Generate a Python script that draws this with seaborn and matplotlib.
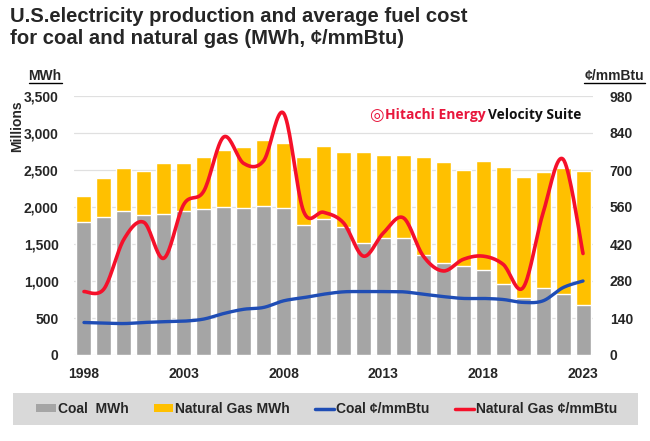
import numpy as np
import pandas as pd
import matplotlib
matplotlib.use("Agg")
import matplotlib.pyplot as plt
from matplotlib.lines import Line2D
from matplotlib.patches import Patch, Rectangle
import seaborn as sns

years = list(range(1998, 2024))
coal_mwh = [1800, 1860, 1940, 1890, 1910, 1940, 1970, 2000, 1990, 2010, 1980, 1750, 1840,
            1730, 1510, 1580, 1580, 1350, 1240, 1205, 1150, 965, 775, 900, 830, 675]
total_mwh = [2150, 2390, 2530, 2490, 2590, 2590, 2680, 2770, 2810, 2910, 2860, 2680, 2830,
             2740, 2740, 2700, 2700, 2670, 2610, 2500, 2620, 2545, 2400, 2470, 2530, 2480]
gas_mwh = [t - c for t, c in zip(total_mwh, coal_mwh)]
coal_cost = [123, 121, 119, 123, 126, 128, 136, 157, 173, 180, 205, 217, 230,
             239, 240, 240, 239, 230, 221, 214, 214, 210, 199, 205, 255, 280]
gas_cost = [240, 250, 438, 502, 366, 570, 620, 825, 725, 735, 915, 544, 540,
            500, 374, 462, 519, 374, 318, 362, 374, 343, 255, 538, 741, 384]
left_ticks = [0, 500, 1000, 1500, 2000, 2500, 3000, 3500]
right_ticks = [0, 140, 280, 420, 560, 700, 840, 980]
shown_years = [1998, 2003, 2008, 2013, 2018, 2023]

GRAY = "#a5a5a5"
GOLD = "#ffc000"
BLUE = "#1f4db5"
RED = "#f5102a"


def smooth(y, n=20):
    """Excel-style smoothed curve (Bezier through points)."""
    y = np.asarray(y, float)
    x = np.arange(len(y), dtype=float)
    P = np.column_stack([x, y])
    out = []
    for i in range(len(P) - 1):
        p0 = P[i - 1] if i > 0 else P[i]
        p1, p2 = P[i], P[i + 1]
        p3 = P[i + 2] if i + 2 < len(P) else P[i + 1]
        c1 = p1 + (p2 - p0) / 6
        c2 = p2 - (p3 - p1) / 6
        t = np.linspace(0, 1, n, endpoint=(i == len(P) - 2))[:, None]
        seg = ((1 - t) ** 3) * p1 + 3 * ((1 - t) ** 2) * t * c1 + 3 * (1 - t) * t ** 2 * c2 + t ** 3 * p2
        out.append(seg)
    out = np.vstack(out)
    return out[:, 0], out[:, 1]


sns.set_theme(style="white")
plt.rcParams["font.family"] = ["Liberation Sans", "DejaVu Sans"]

W, H = 650, 441
fig = plt.figure(figsize=(6.5, 4.41), dpi=100)
ax = fig.add_axes([74 / W, 1 - 355 / H, (593 - 74) / W, (355 - 96) / H])

df = pd.DataFrame({"year": [str(y) for y in years], "total": total_mwh, "coal": coal_mwh})
sns.barplot(data=df, x="year", y="total", color=GOLD, width=0.75, saturation=1, ax=ax, zorder=2)
sns.barplot(data=df, x="year", y="coal", color=GRAY, width=0.75, saturation=1, ax=ax, zorder=3)

ax.set_ylim(0, 3500)
ax.set_xlim(-0.5, len(years) - 0.5)
ax.set_yticks(left_ticks)
ax.set_yticklabels([f"{v:,}" for v in left_ticks], fontsize=10, fontweight="bold")
ax.set_xticks([years.index(y) for y in shown_years])
ax.set_xticklabels([str(y) for y in shown_years], fontsize=10, fontweight="bold")
ax.tick_params(axis="y", length=0, pad=11)
ax.tick_params(axis="x", length=0, pad=9)
ax.set_xlabel("")
ax.set_ylabel("")
ax.grid(axis="y", color="#e0e0e0", linewidth=0.9, zorder=0)
ax.set_axisbelow(True)
for s in ax.spines.values():
    s.set_visible(False)

ax2 = ax.twinx()
xs, ys = smooth(coal_cost)
sns.lineplot(x=xs, y=ys, color=BLUE, linewidth=2.4, ax=ax2, sort=False, zorder=5)
xs, ys = smooth(gas_cost)
sns.lineplot(x=xs, y=ys, color=RED, linewidth=2.6, ax=ax2, sort=False, zorder=6)
ax2.set_ylim(0, 980)
ax2.set_yticks(right_ticks)
ax2.set_yticklabels([str(v) for v in right_ticks], fontsize=10, fontweight="bold")
ax2.tick_params(axis="y", length=0, pad=12)
ax2.set_xlim(-0.5, len(years) - 0.5)
for s in ax2.spines.values():
    s.set_visible(False)
ax2.grid(False)

# Title
fig.text(10 / W, 1 - 22.5 / H, "U.S.electricity production and average fuel cost",
         fontsize=14.6, fontweight="bold", va="baseline", ha="left")
fig.text(10 / W, 1 - 44.5 / H, "for coal and natural gas (MWh, ¢/mmBtu)",
         fontsize=14.6, fontweight="bold", va="baseline", ha="left")

# Axis unit labels (underlined)
fig.text(45 / W, 1 - 76 / H, "MWh", fontsize=10, fontweight="bold", ha="center", va="center")
fig.add_artist(Line2D([29 / W, 62 / W], [1 - 83 / H, 1 - 83 / H], color="black", linewidth=1))
fig.text(614 / W, 1 - 76 / H, "¢/mmBtu", fontsize=10, fontweight="bold", ha="center", va="center")
fig.add_artist(Line2D([584 / W, 645 / W], [1 - 83 / H, 1 - 83 / H], color="black", linewidth=1))
fig.text(17 / W, 1 - 126 / H, "Millions", fontsize=10, fontweight="bold", rotation=90,
         ha="center", va="center")

# Branding
fig.text(369 / W, 1 - 115 / H, "◎", fontsize=12, color="#e8163c", ha="left", va="center",
         family=["DejaVu Sans"], fontweight="bold")
fig.text(385 / W, 1 - 115 / H, "Hitachi Energy", fontsize=10, color="#e8163c", ha="left",
         va="center", family=["Open Sans", "DejaVu Sans"], fontweight="bold")
fig.text(488 / W, 1 - 115 / H, "Velocity Suite", fontsize=9.9, color="#111111", ha="left",
         va="center", family=["Open Sans", "DejaVu Sans"], fontweight="bold")

# Legend background
fig.add_artist(Rectangle((13 / W, 1 - 425 / H), (638 - 13) / W, (425 - 393) / H,
                         transform=fig.transFigure, facecolor="#d9d9d9", edgecolor="none", zorder=0))
handles = [Patch(facecolor=GRAY, edgecolor="none"),
           Patch(facecolor=GOLD, edgecolor="none"),
           Line2D([0], [0], color=BLUE, linewidth=2.5),
           Line2D([0], [0], color=RED, linewidth=2.5)]
labels = ["Coal  MWh", "Natural Gas MWh", "Coal ¢/mmBtu", "Natural Gas ¢/mmBtu"]
leg = fig.legend(handles, labels, loc="center", bbox_to_anchor=(327 / W, 1 - 409 / H),
                 ncol=4, frameon=False, handlelength=1.4, handleheight=0.5,
                 handletextpad=0.15, columnspacing=1.8, borderpad=0.3, borderaxespad=0,
                 prop={"size": 10, "weight": "bold"})

fig.savefig("out.png", dpi=100)
